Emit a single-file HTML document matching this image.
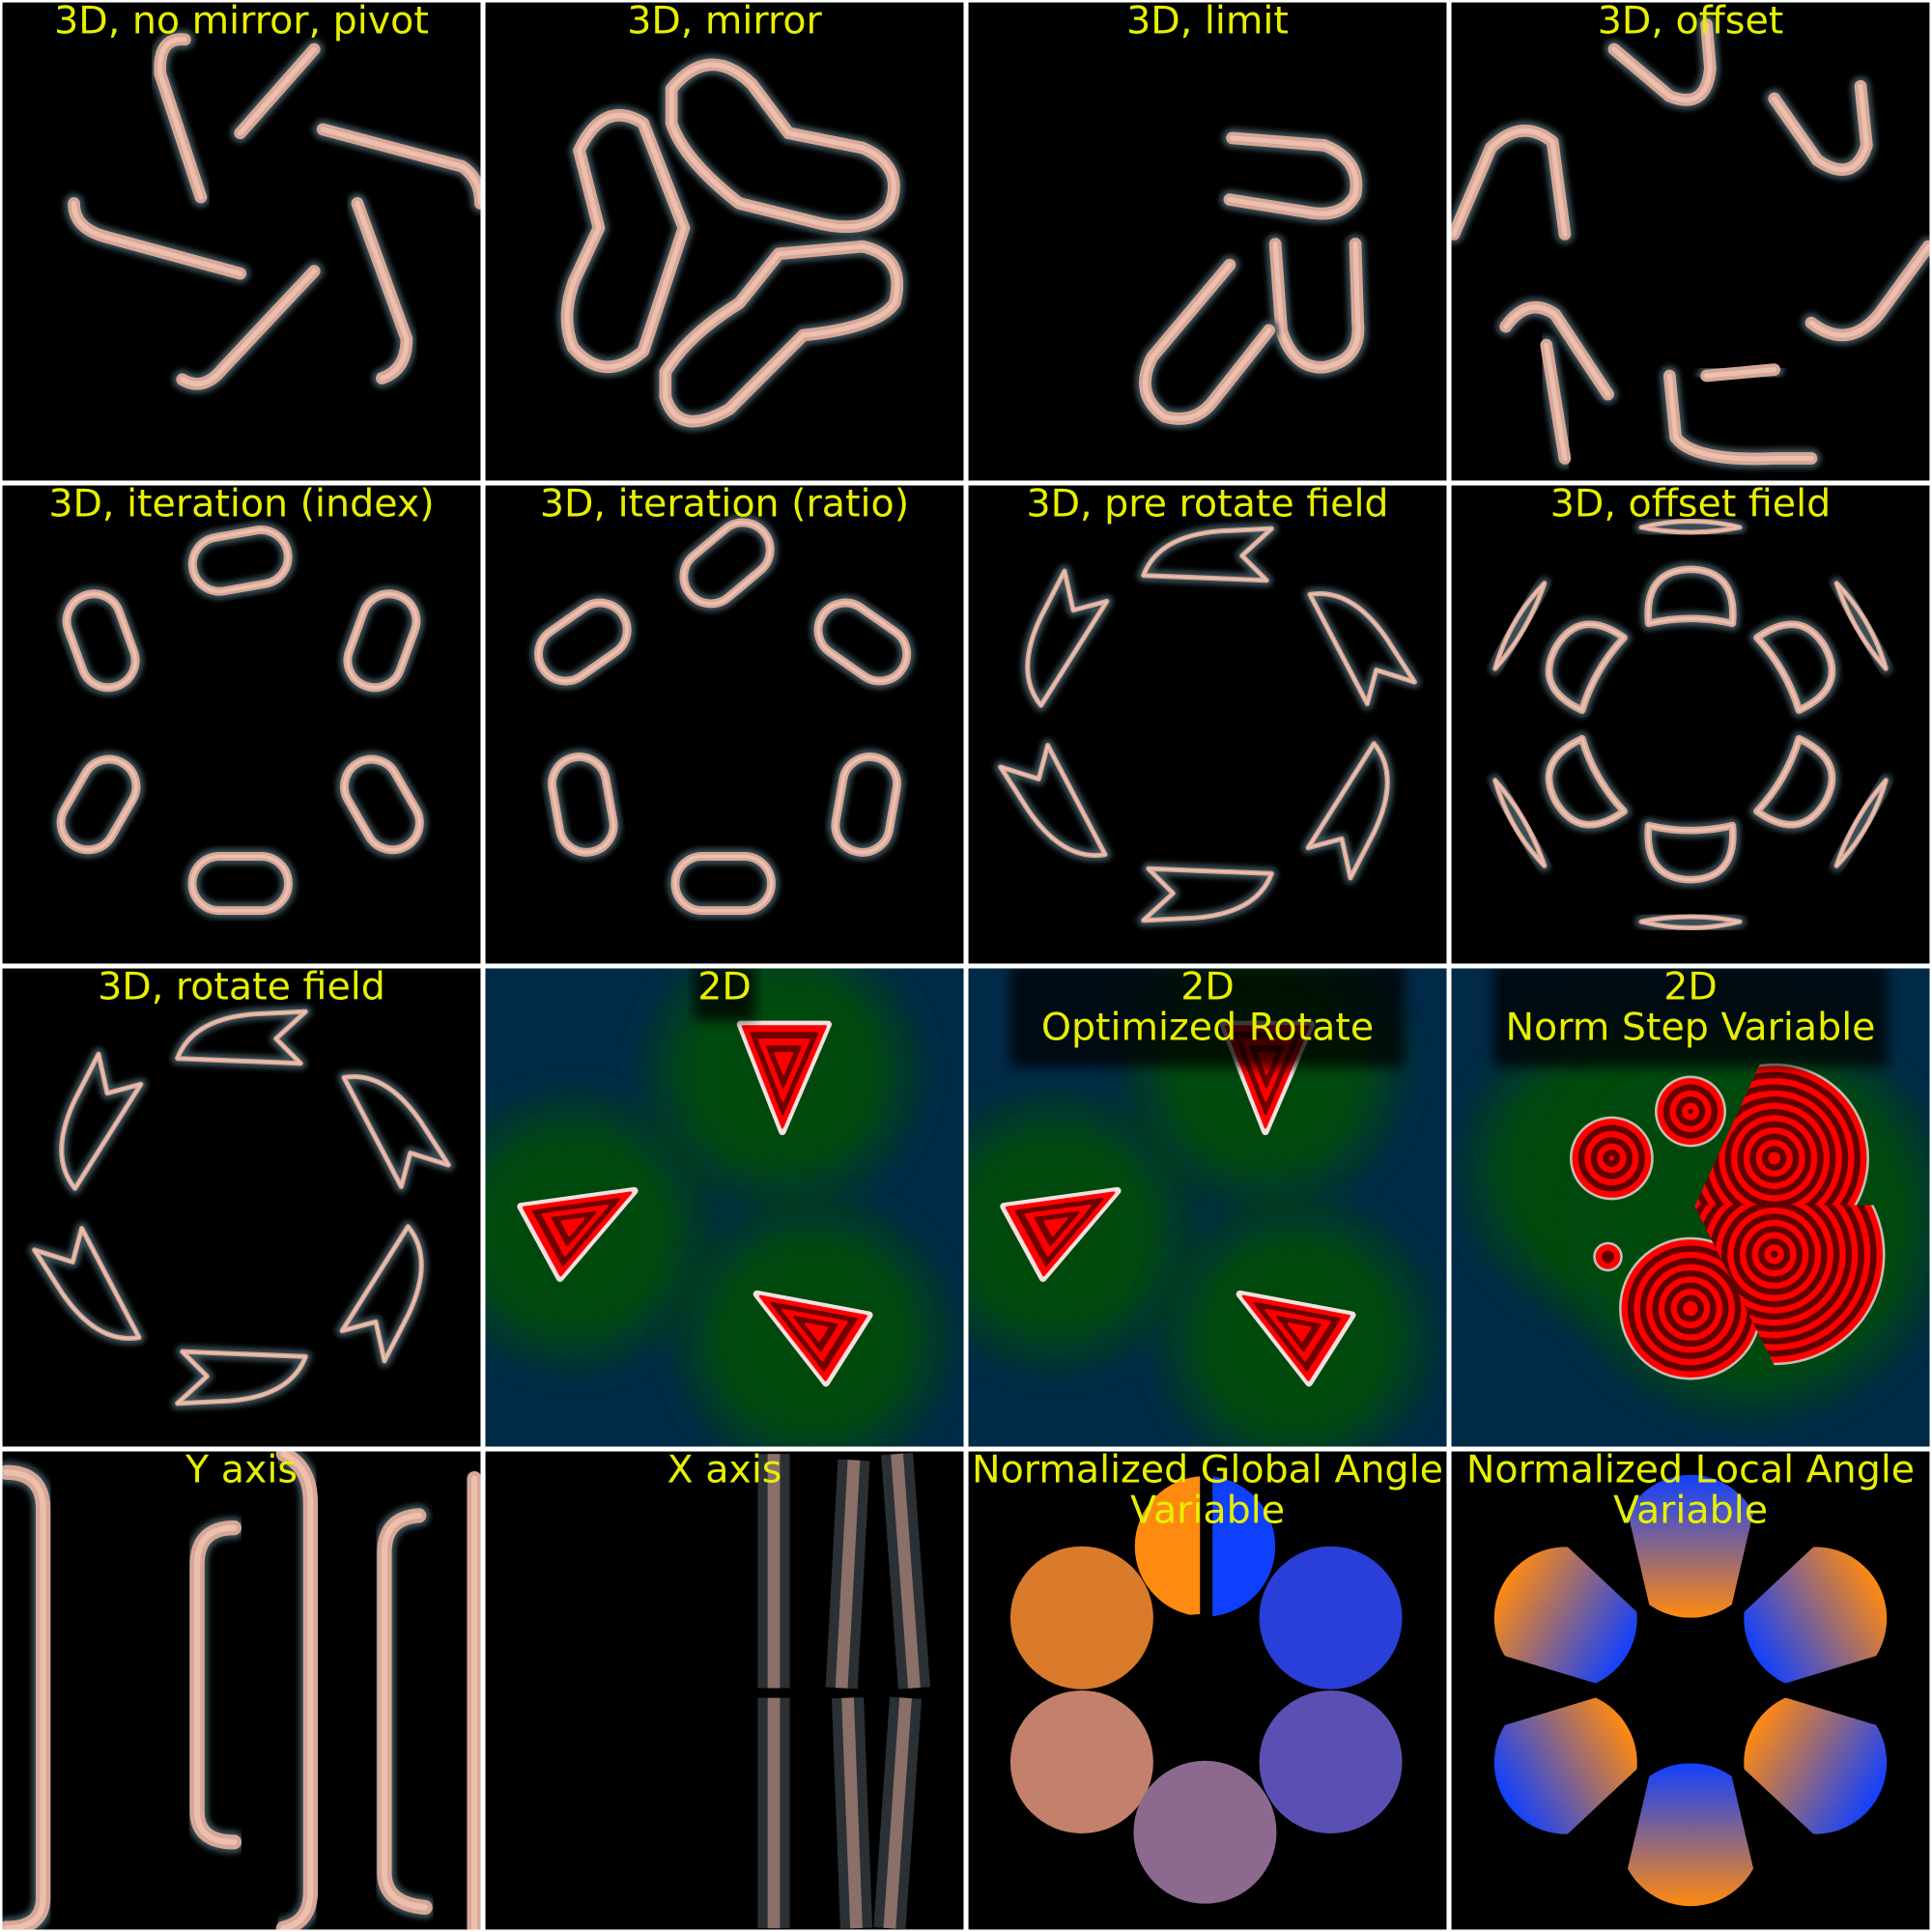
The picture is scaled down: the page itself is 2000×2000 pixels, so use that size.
<!DOCTYPE html>
<html><head><meta charset="utf-8"><style>
html,body{margin:0;padding:0;background:#fff;}
svg{display:block;}
text{font-family:"DejaVu Sans","Liberation Sans",sans-serif;font-size:31px;fill:#e6f000;text-anchor:middle;}
</style></head><body>
<svg id="root" width="2000" height="2000" viewBox="0 0 1568 1568" xmlns="http://www.w3.org/2000/svg">
<defs>
<filter id="soft" x="-20%" y="-20%" width="140%" height="140%"><feGaussianBlur stdDeviation="2.2"/></filter>
<filter id="glow" x="-50%" y="-50%" width="200%" height="200%"><feGaussianBlur stdDeviation="18"/></filter>
<filter id="sh" x="-10%" y="-30%" width="120%" height="160%"><feGaussianBlur stdDeviation="5"/></filter>
<linearGradient id="g1" x1="0" y1="0" x2="0" y2="1"><stop offset="0" stop-color="#1040ff"/><stop offset="1" stop-color="#ff8a10"/></linearGradient>
<linearGradient id="g2" x1="0" y1="0" x2="0" y2="1"><stop offset="0" stop-color="#ff8a10"/><stop offset="1" stop-color="#1040ff"/></linearGradient>
</defs>
<rect x="0" y="0" width="1568" height="1568" fill="#ffffff"/>
<g id="cells"></g>
</svg>
<script>
const NS='http://www.w3.org/2000/svg';
const cells=document.getElementById('cells');
const defs=document.querySelector('defs');
const titles=[["3D, no mirror, pivot"],["3D, mirror"],["3D, limit"],["3D, offset"],
["3D, iteration (index)"],["3D, iteration (ratio)"],["3D, pre rotate field"],["3D, offset field"],
["3D, rotate field"],["2D"],["2D","Optimized Rotate"],["2D","Norm Step Variable"],
["Y axis"],["X axis"],["Normalized Global Angle","Variable"],["Normalized Local Angle","Variable"]];
const cellNames=['no-mirror-pivot','mirror','limit','offset','iteration-index','iteration-ratio','pre-rotate-field','offset-field','rotate-field','2d','2d-optimized-rotate','2d-norm-step','y-axis','x-axis','global-angle','local-angle'];
function el(tag,attrs,parent){const e=document.createElementNS(NS,tag);for(const k in attrs)e.setAttribute(k,attrs[k]);parent.appendChild(e);return e;}
function tube(d,g,w){w=w||10;
 el('path',{d:d,fill:'none',stroke:'#3a5058',"stroke-width":w+6,"stroke-linecap":'round',"stroke-linejoin":'round',filter:'url(#soft)'},g);
 el('path',{d:d,fill:'none',stroke:'#d7a796',"stroke-width":w,"stroke-linecap":'round',"stroke-linejoin":'round'},g);
 el('path',{d:d,fill:'none',stroke:'#ecbfae',"stroke-width":w/2.5,"stroke-linecap":'round',"stroke-linejoin":'round'},g);}
const G=[];
for(let i=0;i<16;i++){
 const c=i%4,r=Math.floor(i/4),x=c*392+2,y=r*392+2;
 const cp=el('clipPath',{id:'cp'+i},defs);
 el('rect',{x:x,y:y,width:388,height:388},cp);
 const g=el('g',{"clip-path":'url(#cp'+i+')'},cells);
 
 
 el('rect',{x:x,y:y,width:388,height:388,fill:'#000'},g);
 G.push({g,x,y});
}
// Panel 0
(function(){const g=G[0].g;
 ['M150 32 Q128 30 130 60 L163 160','M195 108 L255 40','M262 105 L375 135 Q390 145 390 165','M60 165 Q60 185 85 192 L195 222','M148 308 Q165 318 180 300 L255 220','M290 165 L330 275 Q330 300 310 307'].forEach(d=>tube(d,g,10));
})();
// Panel 1
(function(){const g=G[1].g;
 ['M545 72 Q575 35 610 68 L640 108 L700 120 Q735 135 722 168 Q705 192 660 180 L600 165 Q555 130 545 100 Z',
  'M470 122 Q490 80 522 100 L555 185 L522 285 Q490 312 465 282 Q455 258 466 228 L486 185 Z',
  'M540 302 Q558 272 600 246 L632 206 L700 200 Q736 208 726 246 Q712 266 652 272 L592 332 Q550 356 540 322 Z'].forEach(d=>tube(d,g,10));
})();
// Panel 2
(function(){const g=G[2].g;
 ['M1000 112 L1075 118 Q1105 130 1100 158 Q1090 178 1060 172 L998 162','M1035 198 L1040 268 Q1050 300 1075 298 Q1105 292 1102 262 L1100 198','M998 215 L935 290 Q920 320 945 338 Q970 345 985 325 L1030 268'].forEach(d=>tube(d,g,10));
})();
// Panel 3
(function(){const g=G[3].g;
 ['M1310 40 L1355 78 Q1385 90 1388 55 L1385 20','M1440 80 L1475 130 Q1505 150 1515 118 L1510 70','M1180 190 L1210 120 Q1235 95 1260 115 L1270 190','M1222 265 Q1240 240 1262 255 L1305 320','M1255 280 L1270 372','M1355 305 L1360 355 Q1375 375 1440 372 L1470 372','M1385 305 L1440 300','M1470 262 Q1500 285 1525 255 L1565 200'].forEach(d=>tube(d,g,10));
})();
// Panels 4,5 capsules
const caps4=[[195,455,-10],[82,520,70],[310,520,-70],[80,653,-60],[310,653,60],[195,717,0]];
const caps5=[[590,457,-40],[473,521,-35],[700,521,35],[473,653,80],[703,653,-80],[587,717,0]];
[[4,caps4],[5,caps5]].forEach(([k,arr])=>{const g=G[k].g;arr.forEach(a=>{
 const w=78,h=44;const d=`M${-w/2+h/2} ${-h/2} L${w/2-h/2} ${-h/2} A${h/2} ${h/2} 0 0 1 ${w/2-h/2} ${h/2} L${-w/2+h/2} ${h/2} A${h/2} ${h/2} 0 0 1 ${-w/2+h/2} ${-h/2} Z`;
 const gg=el('g',{transform:`translate(${a[0]} ${a[1]}) rotate(${a[2]})`},g);tube(d,gg,7);});});
// Panels 6,8 kites
const kiteAng=[-90,-30,30,90,150,210];
[[6,980,588],[8,196,980]].forEach(([k,cx,cy])=>{const g=G[k].g;kiteAng.forEach(an=>{
 const rad=an*Math.PI/180;const px=cx+140*Math.cos(rad),py=cy+135*Math.sin(rad);
 const gg=el('g',{transform:`translate(${px} ${py}) rotate(${an+90})`},g);
 tube('M-52 14 Q-40 -18 10 -22 L52 -24 L28 -2 L48 18 Z',gg,4);});});
// Panel 7
(function(){const g=G[7].g;const cx=1372,cy=588;
 [-90,-30,30,90,150,210].forEach(an=>{const rad=an*Math.PI/180;
  const gg=el('g',{transform:`translate(${cx+100*Math.cos(rad)} ${cy+100*Math.sin(rad)}) rotate(${an+90})`},g);
  tube('M-34 18 Q-38 -25 0 -26 Q38 -25 34 18 Q0 10 -34 18 Z',gg,6);
  const g2=el('g',{transform:`translate(${cx+160*Math.cos(rad)} ${cy+160*Math.sin(rad)}) rotate(${an+90})`},g);
  tube('M-40 0 Q0 -10 40 0 Q0 8 -40 0 Z',g2,4);});
})();
// 2D panels
function bg2d(g,x,y,blobs){el('rect',{x:x,y:y,width:388,height:388,fill:'#002a48'},g);
 blobs.forEach(b=>el('circle',{cx:b[0],cy:b[1],r:b[2],fill:'#004a10',filter:'url(#glow)'},g));}
function tri(g,pts){const c=[0,0];pts.forEach(p=>{c[0]+=p[0]/3;c[1]+=p[1]/3;});
 const sc=[1.06,1,0.8,0.6,0.4,0.2],cols=['#f4e0e0','#ff0000','#700000','#ff0000','#700000','#ff0000'];
 sc.forEach((s,i)=>el('polygon',{points:pts.map(p=>[c[0]+(p[0]-c[0])*s,c[1]+(p[1]-c[1])*s].join(',')).join(' '),fill:cols[i],"stroke-linejoin":'round',stroke:cols[i],"stroke-width":i==0?6:2},g));}
const tris=[[[603,833],[670,833],[635,915]],[[425,980],[512,968],[455,1035]],[[617,1052],[703,1068],[670,1120]]];
[[9,0],[10,392]].forEach(([k,dx])=>{const g=G[k].g;
 bg2d(g,G[k].x,G[k].y,[[635+dx,870,100],[465+dx,1000,100],[660+dx,1085,100]]);
 tris.forEach(t=>tri(g,t.map(p=>[p[0]+dx,p[1]])));});
function rings(g,cx,cy,r){el('circle',{cx:cx,cy:cy,r:r+2,fill:'#f0e0e0',opacity:0.8},g);
 let rr=r;let i=0;while(rr>1){el('circle',{cx:cx,cy:cy,r:rr,fill:i%2?'#600000':'#ff0000'},g);rr-=5;i++;}}
(function(){const g=G[11].g;bg2d(g,1178,786,[[1308,950,110],[1420,990,150]]);
 rings(g,1308,940,32);rings(g,1372,902,27);rings(g,1305,1020,10);
 const c1=el('clipPath',{id:'cA'},defs);el('polygon',{points:'1300,978 1375,978 1445,1110 1445,1140 1300,1140'},c1);
 const a=el('g',{"clip-path":'url(#cA)'},g);rings(a,1372,1062,56);
 const c2=el('clipPath',{id:'cB'},defs);el('polygon',{points:'1430,860 1540,860 1540,978 1376,978'},c2);
 const b=el('g',{"clip-path":'url(#cB)'},g);rings(b,1440,940,75);
 const c3=el('clipPath',{id:'cC'},defs);el('polygon',{points:'1375,978 1540,978 1540,1130 1451,1130'},c3);
 const d=el('g',{"clip-path":'url(#cC)'},g);rings(d,1440,1018,88);})();
// Panel 12 Y axis
(function(){const g=G[12].g;
 ['M5 1195 Q35 1195 35 1225 L35 1540 Q35 1565 5 1565','M190 1240 Q160 1240 160 1270 L160 1470 Q160 1495 190 1495','M230 1180 Q252 1190 252 1220 L252 1535 Q252 1560 230 1565','M340 1230 Q312 1232 312 1260 L312 1520 Q312 1545 345 1548','M385 1200 L385 1565'].forEach(d=>tube(d,g,12));})();
// Panel 13 X axis
(function(){const g=G[13].g;
 ['M628 1180 L628 1370','M693 1185 L683 1370','M728 1180 L742 1370','M628 1378 L628 1565','M688 1378 L695 1565','M735 1378 L722 1565'].forEach(d=>{
  el('path',{d:d,stroke:'#2a3034',"stroke-width":26,fill:'none'},g);
  el('path',{d:d,stroke:'#8a7068',"stroke-width":10,fill:'none'},g);});})();
// Panel 14
(function(){const g=G[14].g;
 [[878,1313,'#d97b2a'],[1080,1313,'#2a3fd8'],[878,1430,'#c3806a'],[1080,1430,'#5a50b4'],[978,1487,'#8c6a90']].forEach(c=>el('circle',{cx:c[0],cy:c[1],r:58,fill:c[2]},g));
 const cl=el('clipPath',{id:'cL'},defs);el('polygon',{points:'900,1190 974,1190 974,1310 950,1312 900,1300'},cl);
 const cr=el('clipPath',{id:'cR'},defs);el('polygon',{points:'984,1190 1060,1190 1060,1300 984,1312'},cr);
 el('circle',{cx:978,cy:1255,r:57,fill:'#ff8a10',"clip-path":'url(#cL)'},g);
 el('circle',{cx:978,cy:1255,r:57,fill:'#1040ff',"clip-path":'url(#cR)'},g);})();
// Panel 15
(function(){const g=G[15].g;const cx=1372,cy=1372;
 const fills=['url(#g1)','url(#g2)','url(#g1)','url(#g2)','url(#g1)','url(#g2)'];
 [-90,-30,30,90,150,210].forEach((an,i)=>{
  const cp=el('clipPath',{id:'lc'+i},defs);
  el('polygon',{points:'-31,-59 31,-59 64,-200 -64,-200'},cp);
  const gg=el('g',{transform:`translate(${cx} ${cy}) rotate(${an+90})`},g);
  el('circle',{cx:0,cy:-117,r:58,fill:fills[i],"clip-path":`url(#lc${i})`},gg);});})();
// Titles
G.forEach((o,i)=>{const t=titles[i];const tg=el('g',{},o.g);
 
 
 if(i>=9&&i<=11){el('rect',{x:o.x+194-(t.length>1?160:25),y:o.y-2,width:(t.length>1?320:50),height:t.length*38+6,fill:'#000',opacity:0.75,filter:'url(#sh)'},tg);}
 t.forEach((s,j)=>{const tx=el('text',{x:o.x+194,y:o.y+25+j*33},tg);tx.textContent=s;});});
</script>
</body></html>
